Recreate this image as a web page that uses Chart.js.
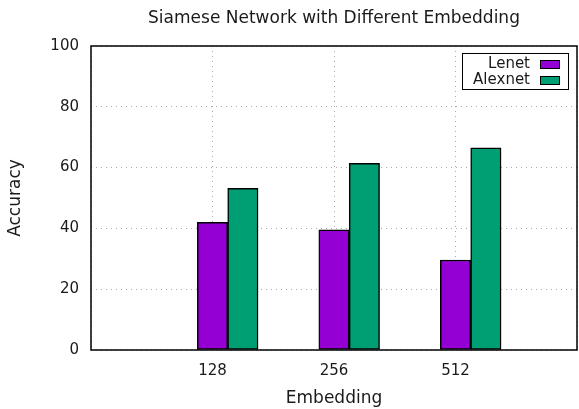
<!DOCTYPE html>
<html>
<head>
<meta charset="utf-8">
<script src="https://cdn.jsdelivr.net/npm/chart.js@4"></script>
<style>
  html, body { margin: 0; padding: 0; background: #fff; }
  #chart { display: block; }
</style>
</head>
<body>
<canvas id="chart" width="579" height="409"></canvas>
<script>
const embeddings = ['128', '256', '512'];
const lenet = [42.0, 39.5, 29.6];
const alexnet = [53.2, 61.4, 66.5];
const seriesNames = ['Lenet', 'Alexnet'];
const seriesColors = ['#9400d3', '#009e73'];

const textColor = '#1a1a1a';
const gridColor = '#a8a8a8';

Chart.defaults.font.family = '"DejaVu Sans", sans-serif';
Chart.defaults.font.size = 15;
Chart.defaults.color = textColor;

// gnuplot-like histogram: first series on the tick, second one bar width to the right
const barStep = 0.25;

// black frame round the plot area and the boxed key in the top right corner
const framePlugin = {
  id: 'frame',
  afterDraw(chart) {
    const { ctx, chartArea: a } = chart;
    ctx.save();
    ctx.strokeStyle = '#000';
    ctx.lineWidth = 1.5;
    ctx.strokeRect(a.left, a.top, a.right - a.left, a.bottom - a.top);

    const boxRight = a.right - 9;
    const boxTop = a.top + 7;
    const boxW = 106;
    const rowH = 16;
    const boxH = rowH * seriesNames.length + 4;
    ctx.lineWidth = 1;
    ctx.strokeRect(boxRight - boxW + 0.5, boxTop + 0.5, boxW, boxH);

    ctx.font = '15px "DejaVu Sans", sans-serif';
    ctx.textAlign = 'right';
    ctx.textBaseline = 'middle';
    chart.data.datasets.forEach((ds, i) => {
      const cy = boxTop + 3 + rowH * i + rowH / 2;
      ctx.fillStyle = textColor;
      ctx.fillText(ds.label, boxRight - 38, cy);
      ctx.fillStyle = ds.backgroundColor;
      ctx.fillRect(boxRight - 28, cy - 4, 19, 8);
      ctx.strokeStyle = '#000';
      ctx.strokeRect(boxRight - 28 + 0.5, cy - 4 + 0.5, 19, 8);
    });
    ctx.restore();
  },
};

const noSidePadding = (s) => {
  s.paddingLeft = 0;
  s.paddingRight = 0;
};

new Chart(document.getElementById('chart'), {
  type: 'bar',
  data: {
    datasets: [
      {
        label: seriesNames[0],
        data: lenet.map((v, i) => ({ x: i + 1, y: v })),
        backgroundColor: seriesColors[0],
      },
      {
        label: seriesNames[1],
        data: alexnet.map((v, i) => ({ x: i + 1 + barStep, y: v })),
        backgroundColor: seriesColors[1],
      },
    ],
  },
  options: {
    responsive: false,
    animation: false,
    layout: { padding: { left: 0, right: 2, top: 0, bottom: 0 } },
    datasets: {
      bar: {
        grouped: false,
        categoryPercentage: 1,
        barPercentage: 1,
        borderColor: '#000',
        borderWidth: 1.5,
        borderSkipped: false,
      },
    },
    scales: {
      x: {
        type: 'linear',
        min: 0,
        max: 4,
        offset: false,
        afterFit: (s) => { s.height = 59; noSidePadding(s); },
        ticks: {
          stepSize: 1,
          padding: 12,
          color: textColor,
          callback: (v) => embeddings[v - 1] ?? '',
        },
        grid: {
          offset: false,
          drawTicks: false,
          color: gridColor,
          lineWidth: 1,
        },
        border: { display: false, dash: [1, 4] },
        title: {
          display: true,
          text: 'Embedding',
          color: textColor,
          font: { size: 17 },
          padding: { top: 0, bottom: 0 },
        },
      },
      y: {
        min: 0,
        max: 100,
        afterFit: (s) => { s.width = 91; },
        ticks: { stepSize: 20, padding: 12, color: textColor },
        grid: { drawTicks: false, color: gridColor, lineWidth: 1 },
        border: { display: false, dash: [1, 4] },
        title: {
          display: true,
          text: 'Accuracy',
          color: textColor,
          font: { size: 17 },
          padding: { top: 5, bottom: 0 },
        },
      },
    },
    plugins: {
      legend: { display: false },
      tooltip: { enabled: false },
      title: {
        display: true,
        fullSize: false,
        text: 'Siamese Network with Different Embedding',
        color: textColor,
        font: { size: 17, weight: 'normal' },
        padding: { top: 8, bottom: 17.6 },
      },
    },
  },
  plugins: [framePlugin],
});
</script>
</body>
</html>
